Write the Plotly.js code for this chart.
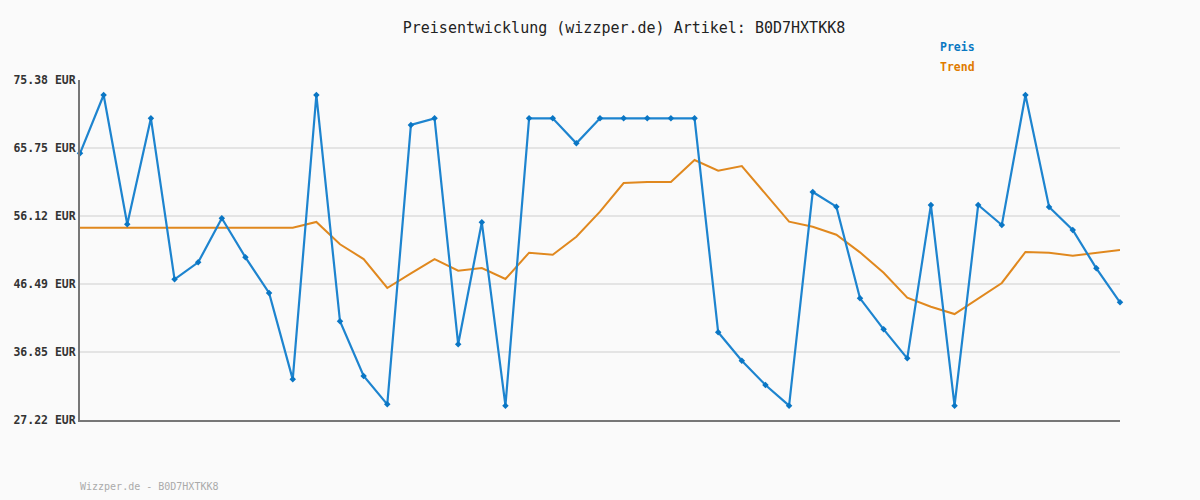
<!DOCTYPE html>
<html>
<head>
<meta charset="utf-8">
<script src="https://cdn.plot.ly/plotly-3.0.1.min.js"></script>
<style>html,body{margin:0;padding:0;background:#fafafa;}#chart{width:1200px;height:500px;}</style>
</head>
<body>
<div id="chart"></div>
<script>
const preis = [64.99, 73.26, 54.94, 69.95, 47.14, 49.55, 55.79, 50.26, 45.21, 32.98,
  73.26, 41.20, 33.45, 29.44, 69.01, 69.95, 37.94, 55.22, 29.25, 69.95,
  69.95, 66.41, 69.95, 69.95, 69.95, 69.95, 69.95, 39.64, 35.62, 32.18,
  29.25, 59.52, 57.44, 44.45, 40.06, 35.95, 57.67, 29.25, 57.67, 54.84,
  73.26, 57.39, 54.13, 48.70, 43.89];
const trend = [54.46, 54.46, 54.46, 54.46, 54.46, 54.46, 54.46, 54.46, 54.46, 54.46,
  55.27, 52.11, 50.02, 45.92, 48.00, 50.02, 48.37, 48.75, 47.19, 50.92,
  50.63, 53.18, 56.73, 60.79, 60.93, 60.93, 64.05, 62.54, 63.20, 59.20,
  55.31, 54.60, 53.47, 50.97, 48.08, 44.54, 43.27, 42.23, 44.40, 46.63,
  51.02, 50.92, 50.49, 50.92, 51.30];
const yTicks = [27.22, 36.85, 46.49, 56.12, 65.75, 75.38];
const yTickLabels = ["27.22 EUR", "36.85 EUR", "46.49 EUR", "56.12 EUR", "65.75 EUR", "75.38 EUR"];
const idx = preis.map((_, i) => i);

const mono = "DejaVu Sans Mono, Liberation Mono, monospace";

const traces = [
  {x: idx, y: trend, type: 'scatter', mode: 'lines', name: 'Trend',
   line: {color: '#e0881e', width: 2}, hoverinfo: 'skip'},
  {x: idx, y: preis, type: 'scatter', mode: 'lines+markers', name: 'Preis',
   line: {color: '#1d84cf', width: 2.2},
   marker: {color: '#0a76c4', size: 5, symbol: 'diamond'}, cliponaxis: false}
];

const layout = {
  width: 1200, height: 500,
  paper_bgcolor: '#fafafa', plot_bgcolor: '#fafafa',
  margin: {l: 80, r: 80, t: 80, b: 80},
  showlegend: false,
  title: {text: 'Preisentwicklung (wizzper.de) Artikel: B0D7HXTKK8',
          font: {family: mono, size: 15, color: '#222'},
          x: 0.52, xanchor: 'center', y: 0.944, yanchor: 'middle'},
  xaxis: {range: [0, idx.length - 1], showgrid: false, zeroline: false,
          showticklabels: false, ticks: '', showline: true, linecolor: '#777', linewidth: 2,
          fixedrange: true},
  yaxis: {range: [yTicks[0], yTicks[yTicks.length - 1]], tickvals: yTicks, ticktext: yTickLabels,
          showgrid: true, gridcolor: '#e4e4e4', gridwidth: 2, zeroline: false,
          showline: true, linecolor: '#777', linewidth: 2, ticks: '', ticklen: 0,
          tickfont: {family: mono, size: 11.5, color: '#333', weight: 'bold'},
          fixedrange: true},
  annotations: [
    {text: '<b>Preis</b>', xref: 'paper', yref: 'paper', x: 0.825, y: 1.097, xanchor: 'left', yanchor: 'middle',
     showarrow: false, font: {family: mono, size: 11.5, color: '#0a78c2'}},
    {text: '<b>Trend</b>', xref: 'paper', yref: 'paper', x: 0.825, y: 1.038, xanchor: 'left', yanchor: 'middle',
     showarrow: false, font: {family: mono, size: 11.5, color: '#e07b00'}},
    {text: 'Wizzper.de - B0D7HXTKK8', xref: 'paper', yref: 'paper', x: -0.002, y: -0.197, xanchor: 'left', yanchor: 'middle',
     showarrow: false, font: {family: mono, size: 10, color: '#aaa'}}
  ]
};

Plotly.newPlot('chart', traces, layout, {displayModeBar: false, staticPlot: true});
</script>
</body>
</html>
